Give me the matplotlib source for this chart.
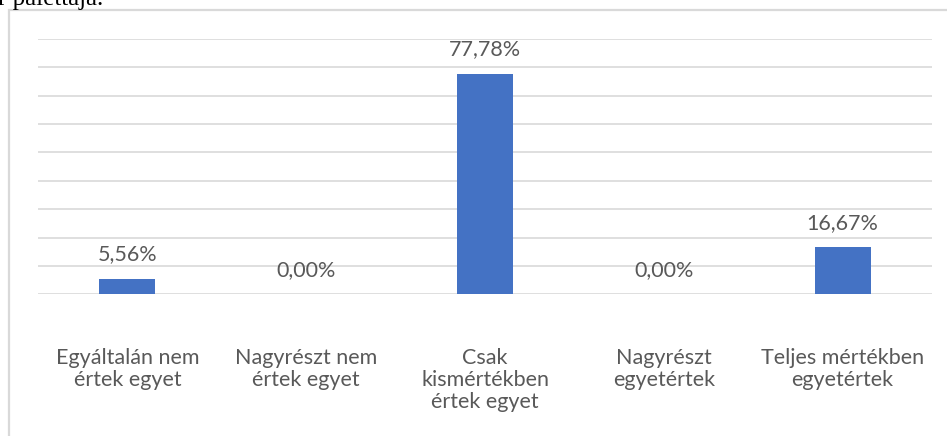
import matplotlib.pyplot as plt
from matplotlib.patches import Rectangle

# Adatok
categories = ["Egyáltalán nem\nértek egyet", "Nagyrészt nem\nértek egyet",
              "Csak\nkismértékben\nértek egyet", "Nagyrészt\negyetértek",
              "Teljes mértékben\negyetértek"]
values = [5.56, 0.00, 77.78, 0.00, 16.67]
labels = ["5,56%", "0,00%", "77,78%", "0,00%", "16,67%"]

plt.rcParams['font.family'] = ['Lato', 'DejaVu Sans']
text_color = '#595959'
grid_color = '#d9d9d9'

fig = plt.figure(figsize=(9.47, 4.36), dpi=100)
ax = fig.add_axes([38 / 947, 1 - 294.3 / 436, 894 / 947, (294.3 - 39) / 436])

x = range(len(categories))
bars = ax.bar(x, values, width=0.313, color='#4472C4', zorder=3)

ax.set_xlim(-0.5, len(categories) - 0.5)
ax.set_ylim(0, 90)
ax.set_yticks(range(0, 91, 10))
ax.yaxis.grid(True, color=grid_color, linewidth=1.2, zorder=0)
ax.tick_params(axis='y', left=False, labelleft=False)
ax.tick_params(axis='x', bottom=False, pad=35, colors=text_color)
ax.set_xticks(list(x))
ax.set_xticklabels(categories, fontsize=15.5, color=text_color, linespacing=1.12)
for s in ax.spines.values():
    s.set_visible(False)

# Adatcímkék
for b, lab in zip(bars, labels):
    ax.annotate(lab, (b.get_x() + b.get_width() / 2, b.get_height()),
                xytext=(0, 17.5), textcoords='offset points', ha='center', va='center',
                fontsize=15.5, color=text_color)

# Diagram kerete
fig.patches.append(Rectangle((9 / 947, -0.1), 1.1, 1 - 10 / 436 + 0.1, transform=fig.transFigure,
                             fill=False, edgecolor=grid_color, linewidth=1.6))

# Levágott szöveg felül
fig.text(-0.002, 1 - 5 / 436, "r palettája.", fontsize=18, family='Liberation Serif',
         color='black', va='baseline', ha='left')

fig.savefig('out.png', dpi=100)
